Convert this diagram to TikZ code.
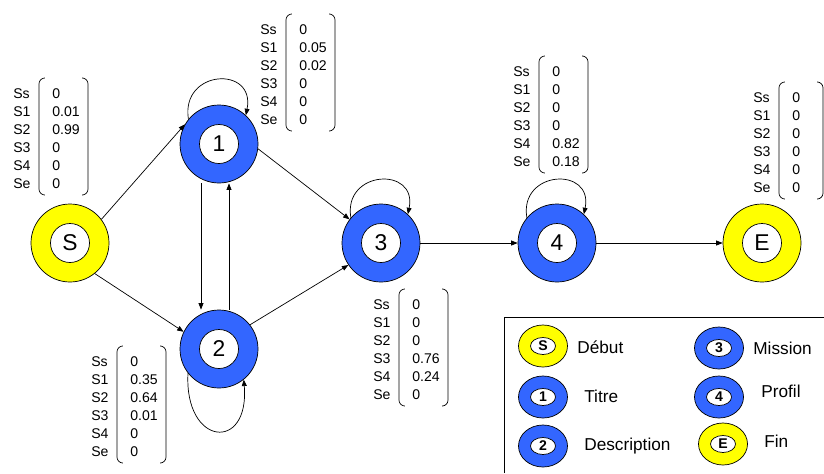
\documentclass[tikz,border=0pt]{standalone}
\usepackage{fontspec}
\setmainfont{Liberation Sans}
\usetikzlibrary{arrows.meta,shapes.geometric}
\definecolor{ringblue}{RGB}{51,102,255}
\definecolor{ringyellow}{RGB}{255,255,0}

% 確率ベクトル
\newcommand{\probvec}[4][75]{%
  \begin{scope}[shift={#3}]
    \foreach \lab [count=\k] in {Ss,S1,S2,S3,S4,Se}
      \node[vectxt] (#2-l\k) at (0,{-2+18*\k}) {\lab};
    \foreach \val [count=\k] in {#4}
      \node[vectxt] (#2-v\k) at (39,{-2+18*\k}) {\val};
    \draw[rounded corners=5pt] (31,0) -- (26,0) -- (26,117) -- (31,117);
    \draw[rounded corners=5pt] (#1-5,0) -- (#1,0) -- (#1,117) -- (#1-5,117);
  \end{scope}}

\begin{document}
\begin{tikzpicture}[x=0.03cm, y=-0.03cm, line width=0.6pt,
    >={Triangle[length=5.5pt,width=4.2pt]},
    hmmstate/.style={circle, draw, fill=#1, minimum size=2.34cm, inner sep=0pt},
    core/.style={circle, draw, fill=white, minimum size=1.17cm, inner sep=0pt, font=\fontsize{19.5}{22}\selectfont},
    vectxt/.style={anchor=west, inner sep=0pt, font=\fontsize{12}{14}\selectfont},
    legring/.style={ellipse, draw, fill=#1, minimum width=1.47cm, minimum height=1.26cm, inner sep=0pt},
    legcore/.style={ellipse, draw, fill=white, minimum width=0.75cm, minimum height=0.51cm, inner sep=0pt, font=\fontsize{12}{14}\selectfont\bfseries},
    legtxt/.style={anchor=west, inner sep=0pt, font=\fontsize{14.7}{17}\selectfont}]
    \useasboundingbox (0,0) rectangle (824,473);

    % 状態
    \node[hmmstate=ringyellow] (S) at (70,243) {};
    \node[core] (Sc) at (S) {S};
    \node[hmmstate=ringblue] (n1) at (219,144) {};
    \node[core] (n1c) at (n1) {1};
    \node[hmmstate=ringblue] (n2) at (219,349) {};
    \node[core] (n2c) at (n2) {2};
    \node[hmmstate=ringblue] (n3) at (381,243) {};
    \node[core] (n3c) at (n3) {3};
    \node[hmmstate=ringblue] (n4) at (557,243) {};
    \node[core] (n4c) at (n4) {4};
    \node[hmmstate=ringyellow] (E) at (762,243) {};
    \node[core] (Ec) at (E) {E};

    % 遷移
    \draw[->] (S.37) -- (n1.150);
    \draw[->] (S.-51) -- (n2.154);
    \draw[->] ([xshift=-0.54cm]n1.south) -- ([xshift=-0.54cm]n2.north);
    \draw[->] ([xshift=0.3cm]n2.north) -- ([xshift=0.3cm]n1.south);
    \draw[->] (n1.-7) -- (n3.143);
    \draw[->] (n2.38) -- (n3.214);
    \draw[->] (n3) -- (n4);
    \draw[->] (n4) -- (E);
    \draw[->] (n1.141) .. controls +(-8,-50) and +(10,-50) .. (n1.47);
    \draw[->] (n3.140) .. controls +(-8,-48) and +(10,-48) .. (n3.47);
    \draw[->] (n4.140) .. controls +(-8,-48) and +(10,-48) .. (n4.47);
    \draw[->] (n2.218) .. controls +(-4,73) and +(6,73) .. (n2.309);

    % 確率
    \probvec{vS}{(13,78)}{0,0.01,0.99,0,0,0}
    \probvec{v1}{(260,14)}{0,0.05,0.02,0,0,0}
    \probvec{v2}{(91,346)}{0,0.35,0.64,0.01,0,0}
    \probvec{v3}{(373,289)}{0,0,0,0.76,0.24,0}
    \probvec{v4}{(513,56)}{0,0,0,0,0.82,0.18}
    \probvec[70]{vE}{(753,82)}{0,0,0,0,0,0}

    % 凡例
    \draw (504,473) |- (824,317);
    \node[legring=ringyellow] (lgS) at (543,346) {};
    \node[legcore] (lgSc) at (lgS) {S};
    \node[legtxt] (tS) at (577,347) {Début};
    \node[legring=ringblue] (lg1) at (543,397) {};
    \node[legcore] (lg1c) at (lg1) {1};
    \node[legtxt] (t1) at (584,396) {Titre};
    \node[legring=ringblue] (lg2) at (543,446) {};
    \node[legcore] (lg2c) at (lg2) {2};
    \node[legtxt] (t2) at (584,446) {Description};
    \node[legring=ringblue] (lg3) at (719,348) {};
    \node[legcore] (lg3c) at (lg3) {3};
    \node[legtxt] (t3) at (753,348) {Mission};
    \node[legring=ringblue] (lg4) at (719,397) {};
    \node[legcore] (lg4c) at (lg4) {4};
    \node[legtxt] (t4) at (761,391) {Profil};
    \node[legring=ringyellow] (lgE) at (723,444) {};
    \node[legcore] (lgEc) at (lgE) {E};
    \node[legtxt] (tE) at (764,441) {Fin};
\end{tikzpicture}
\end{document}
